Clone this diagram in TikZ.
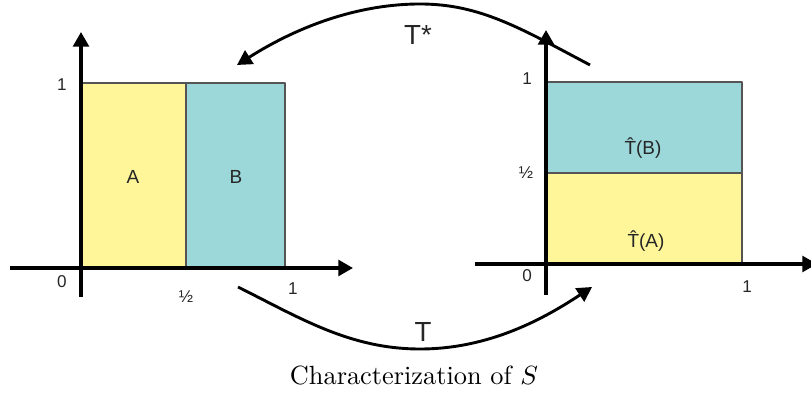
\documentclass[tikz,border=0pt]{standalone}
\usepackage{fontspec}
\newfontfamily\labelfont{Liberation Sans}
\usetikzlibrary{calc, positioning}
\usetikzlibrary{arrows.meta}

\definecolor{boxyellow}{RGB}{255,245,153}
\definecolor{boxteal}{RGB}{156,215,218}
\definecolor{boxedge}{RGB}{85,85,85}

\begin{document}
\begin{tikzpicture}[x=0.38pt,y=-0.38pt,line cap=butt,line join=round,
  axis/.style={line width=1.3pt,-{Triangle[length=5.6pt,width=6pt]}},
  mapcurve/.style={line width=1.1pt,-{Triangle[length=5.6pt,width=6pt]}},
  yellowbox/.style={fill=boxyellow,draw=boxedge,line width=0.5pt},
  tealbox/.style={fill=boxteal,draw=boxedge,line width=0.5pt},
  numlbl/.style={font=\labelfont\fontsize{6.5}{7}\selectfont,text=black!85},
  setlbl/.style={font=\labelfont\fontsize{7.2}{8}\selectfont,text=black!85},
  maplbl/.style={font=\labelfont\fontsize{10.5}{12}\selectfont,text=black!85}]
\path[use as bounding box] (0,0) rectangle (811,394);
\clip (0,0) rectangle (811,394);

% left square: A and B side by side
\coordinate (LO) at (81,268);
\coordinate (Lxl) at (10,268);
\coordinate (Lxr) at (353,268);
\coordinate (Lyb) at (81,297);
\coordinate (Lyt) at (81,32);
\filldraw[yellowbox] (81,83) rectangle (186,268);
\filldraw[tealbox] (186,83) rectangle (285,268);
\draw[axis] (Lxl) -- (Lxr);
\draw[axis] (Lyb) -- (Lyt);

\node[setlbl] (setA) at (133,177) {A};
\node[setlbl] (setB) at (236,177) {B};
\node[numlbl] (Lone) at (62,85) {1};
\node[numlbl] (Lzero) at (62,282) {0};
\node[numlbl] (Lhalf) at (186,297) {½};
\node[numlbl] (Lxone) at (293,289) {1};

% right square: images stacked
\coordinate (RO) at (546,264);
\coordinate (Rxl) at (475,264);
\coordinate (Rxr) at (817,264);
\coordinate (Ryb) at (546,295);
\coordinate (Ryt) at (546,30);
\filldraw[yellowbox] (547,173) rectangle (742,264);
\filldraw[tealbox] (547,82) rectangle (742,173);
\draw[axis] (Rxl) -- (Rxr);
\draw[axis] (Ryb) -- (Ryt);

\node[setlbl] (imgB) at (643,148) {\^{T}(B)};
\node[setlbl] (imgA) at (646,241) {\^{T}(A)};
\node[numlbl] (Rone) at (527,79) {1};
\node[numlbl] (Rhalf) at (526,173) {½};
\node[numlbl] (Rzero) at (527,276) {0};
\node[numlbl] (Rxone) at (747,287) {1};

% the two maps
\coordinate (Tstart) at (238,287);
\coordinate (Tlow) at (420,349);
\coordinate (Tend) at (592,287);
\coordinate (Sstart) at (590,65);
\coordinate (Stop) at (420,4);
\coordinate (Send) at (237,65);
\draw[mapcurve] (Tstart) .. controls (300,318) and (350,349) .. (Tlow)
  .. controls (490,349) and (545,318) .. (Tend);
\draw[mapcurve] (Sstart) .. controls (520,28) and (480,4) .. (Stop)
  .. controls (360,4) and (300,25) .. (Send);
\node[maplbl] (Tmap) at (423,332) {T};
\node[maplbl] (Tstar) at (418,35) {T*};

\node (caption) at (414,376) {Characterization of $S$};
\end{tikzpicture}
\end{document}
